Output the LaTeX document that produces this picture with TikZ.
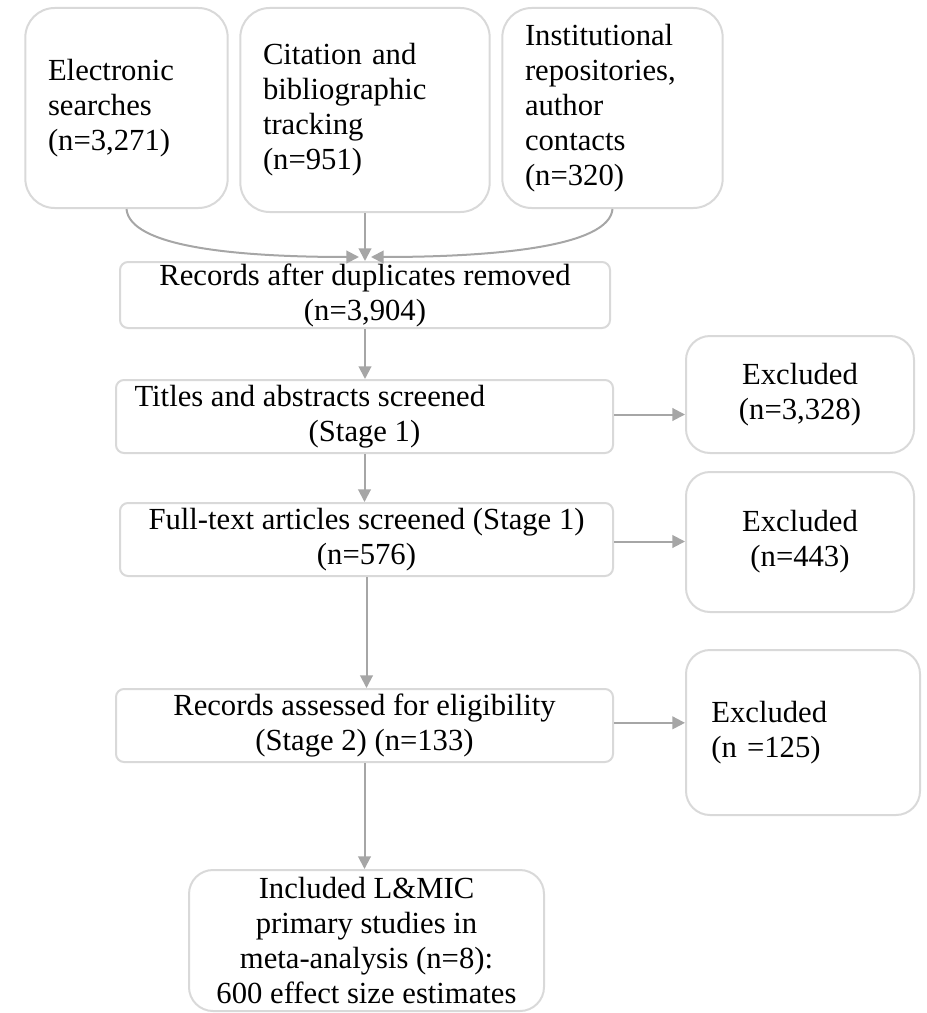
\documentclass[tikz,border=0pt]{standalone}
\usepackage{fontspec}
\setmainfont{Liberation Serif}
\usetikzlibrary{arrows.meta}
\definecolor{boxline}{HTML}{D9D9D9}
\definecolor{flowline}{HTML}{A6A6A6}
\begin{document}
\begin{tikzpicture}[x=0.75pt, y=-0.75pt,
  every node/.style={font=\fontsize{23}{26.25}\selectfont},
  srcbox/.style={draw=boxline, line width=1.5pt, rounded corners=22pt, align=left,
    inner xsep=17pt, inner ysep=0pt, minimum height=150pt},
  flowbox/.style={draw=boxline, line width=1.5pt, rounded corners=6pt, align=center,
    inner sep=0pt, minimum height=54.75pt},
  exclbox/.style={draw=boxline, line width=1.5pt, rounded corners=18pt, align=center,
    inner sep=0pt, minimum width=171pt},
  flow/.style={draw=flowline, line width=1.5pt, -{Triangle[length=9.5pt, width=9.5pt]}}]
  \useasboundingbox (0,0) rectangle (927,1013);

  % Sources
  \node[srcbox, text width=117.75pt] (elec) at (126.5,108) {Electronic\\searches\\(n=3,271)};
  \node[srcbox, text width=153pt, minimum height=153pt] (cite) at (365,110) {Citation and\\bibliographic\\tracking\\(n=951)};
  \node[srcbox, text width=131.25pt] (inst) at (612.5,108) {Institutional\\repositories,\\author\\contacts\\(n=320)};

  % Main flow
  \node[flowbox, minimum width=367.5pt, minimum height=49.5pt] (dedup) at (365,295) {Records after duplicates removed\\(n=3,904)};
  \node[flowbox, minimum width=372.75pt] (titles) at (364.5,416.5) {Titles and abstracts screened\hspace*{82pt}\\(Stage 1)};
  \node[flowbox, minimum width=369.75pt] (fulltext) at (366.5,539.5) {Full-text articles screened (Stage 1)\\(n=576)};
  \node[flowbox, minimum width=372.75pt] (assess) at (364.5,725.5) {Records assessed for eligibility\\(Stage 2) (n=133)};
  \node[flowbox, rounded corners=18pt, minimum width=266.25pt, minimum height=105.75pt] (incl) at (366.5,940.5)
    {Included L\&MIC\\primary studies in\\meta-analysis (n=8):\\600 effect size estimates};

  % Exclusions
  \node[exclbox, minimum height=87.75pt] (excla) at (800,394.5) {Excluded\\(n=3,328)};
  \node[exclbox, minimum height=105pt] (exclb) at (800,542) {Excluded\\(n=443)};
  \node[exclbox, minimum width=175.5pt, minimum height=123.75pt, align=left, inner xsep=19pt, text width=137.5pt] (exclc) at (803,732.5) {Excluded\\(n =125)};

  % Merge of the sources
  \coordinate (mergeL) at (359,257);
  \coordinate (mergeR) at (371,257);
  \draw[flow] (elec.south) to[out=-85, in=180, out distance=28pt, in distance=95pt] (mergeL);
  \draw[flow] (inst.south) to[out=-95, in=0, out distance=28pt, in distance=95pt] (mergeR);
  \draw[flow] (cite.south) -- (cite.south |- dedup.north);

  % Arrows down
  \draw[flow] (dedup.south) -- (dedup.south |- titles.north);
  \draw[flow] (titles.south) -- (titles.south |- fulltext.north);
  \draw[flow] (fulltext.south) -- (fulltext.south |- assess.north);
  \draw[flow] (assess.south) -- (assess.south |- incl.north);

  % Arrows to the exclusions
  \draw[flow] ([yshift=1.5pt]titles.east) -- ([yshift=1.5pt]titles.east -| excla.west);
  \draw[flow] ([yshift=-1.5pt]fulltext.east) -- ([yshift=-1.5pt]fulltext.east -| exclb.west);
  \draw[flow] ([yshift=2pt]assess.east) -- ([yshift=2pt]assess.east -| exclc.west);

\end{tikzpicture}
\end{document}
